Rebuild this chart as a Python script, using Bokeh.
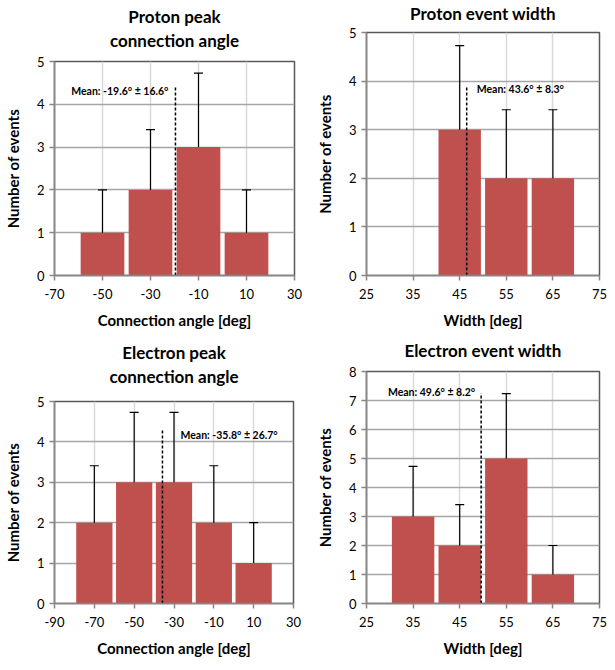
from bokeh.plotting import figure
from bokeh.layouts import row, column
from bokeh.models import Title, Whisker, TeeHead, FixedTicker, Range1d, ColumnDataSource
from bokeh.core.properties import value
from bokeh.embed import file_html
from bokeh.resources import INLINE

# ---------------- data ----------------
pp_centers = [-50, -30, -10, 10]
pp_counts = [1, 2, 3, 1]
pp_err = [1.0, 1.41, 1.73, 1.0]
pp_mean_x = -19.6
pp_mean_top = 4.4
pp_mean_label = "Mean: -19.6° ± 16.6°"

pw_centers = [45, 55, 65]
pw_counts = [3, 2, 2]
pw_err = [1.73, 1.41, 1.41]
pw_mean_x = 46.5
pw_mean_top = 3.88
pw_mean_label = "Mean: 43.6° ± 8.3°"

ep_centers = [-70, -50, -30, -10, 10]
ep_counts = [2, 3, 3, 2, 1]
ep_err = [1.41, 1.73, 1.73, 1.41, 1.0]
ep_mean_x = -35.8
ep_mean_top = 4.3
ep_mean_label = "Mean: -35.8° ± 26.7°"

ew_centers = [35, 45, 55, 65]
ew_counts = [3, 2, 5, 1]
ew_err = [1.73, 1.41, 2.24, 1.0]
ew_mean_x = 49.6
ew_mean_top = 7.25
ew_mean_label = "Mean: 49.6° ± 8.2°"

angle_ticks_top = [-70, -50, -30, -10, 10, 30]
angle_ticks_bottom = [-90, -70, -50, -30, -10, 10, 30]
width_ticks = [25, 35, 45, 55, 65, 75]

FONT = "Lato"
BAR = "#C0504D"


def make_plot(title_lines, title_gap, xlabel, xr, xticks, ymax, centers, counts, errs, barw,
              mean_x, mean_top, mean_label, label_y, label_align, label_off,
              fw, fh, bl, br, bt, bb):
    p = figure(frame_width=fw, frame_height=fh, output_backend="svg", toolbar_location=None,
               x_range=Range1d(*xr), y_range=Range1d(0, ymax), title=None,
               min_border_left=bl, min_border_right=br, min_border_top=bt, min_border_bottom=bb)
    # thin spacer panel between the frame and the title lines
    p.add_layout(Title(text=" ", text_font_size="1px", standoff=title_gap, offset=0), "above")
    for line in reversed(title_lines):
        p.add_layout(Title(text=line, align="center", text_font=FONT, text_font_size="17px",
                           text_font_style="bold", text_color="#000000",
                           standoff=1, offset=0), "above")
    p.outline_line_color = "#595959"
    p.outline_line_width = 1.5

    p.xgrid.grid_line_color = "#d9d9d9"
    p.xgrid.grid_line_width = 1.5
    p.ygrid.grid_line_color = "#a6a6a6"
    p.ygrid.grid_line_width = 1.5
    p.xaxis.ticker = FixedTicker(ticks=xticks)
    p.yaxis.ticker = FixedTicker(ticks=list(range(0, ymax + 1)))
    p.xaxis.major_label_overrides = {t: str(t) for t in xticks}

    for ax in (p.xaxis[0], p.yaxis[0]):
        ax.axis_line_color = "#868686"
        ax.axis_line_width = 1.5
        ax.major_tick_line_color = "#868686"
        ax.major_tick_line_width = 1.5
        ax.major_tick_out = 5
        ax.major_tick_in = 0
        ax.minor_tick_line_color = None
        ax.major_label_text_font = FONT
        ax.major_label_text_font_size = "13px"
        ax.major_label_text_color = "#000000"
        ax.axis_label_text_font = FONT
        ax.axis_label_text_font_size = "15px"
        ax.axis_label_text_font_style = "bold"
        ax.axis_label_text_color = "#000000"
    p.xaxis.axis_label = xlabel
    p.yaxis.axis_label = "Number of events"
    p.xaxis.major_label_standoff = 8
    p.xaxis.axis_label_standoff = 9
    p.yaxis.major_label_standoff = 5
    p.yaxis.axis_label_standoff = 12

    src = ColumnDataSource(dict(x=centers, top=counts,
                                lower=[max(c - e, 0) for c, e in zip(counts, errs)],
                                upper=[c + e for c, e in zip(counts, errs)]))
    p.vbar(x="x", top="top", bottom=0, width=barw, source=src, fill_color=BAR, line_color=None)

    w = Whisker(base="x", upper="upper", lower="lower", source=src, line_color="#000000",
                line_width=1.2,
                upper_head=TeeHead(size=9, line_color="#000000", line_width=1.2),
                lower_head=TeeHead(size=9, line_color="#000000", line_width=1.2))
    p.add_layout(w)

    p.segment(x0=[mean_x], y0=[0], x1=[mean_x], y1=[mean_top], line_color="#000000",
              line_width=1.5, line_dash="3 2")
    p.text(x=[mean_x], y=[label_y], text=[mean_label], text_font=value(FONT),
           text_font_size="10.5px", text_font_style="bold", text_color="#000000",
           text_align=label_align, text_baseline="middle", x_offset=label_off)
    return p


p1 = make_plot(["Proton peak", "connection angle"], 7, "Connection angle [deg]", (-70, 30),
               angle_ticks_top, 5, pp_centers, pp_counts, pp_err, 18.2,
               pp_mean_x, pp_mean_top, pp_mean_label, 4.3, "right", -7,
               240, 214, 45, 12, 61, 56)
p2 = make_plot(["Proton event width"], 5, "Width [deg]", (25, 75),
               width_ticks, 5, pw_centers, pw_counts, pw_err, 9.1,
               pw_mean_x, pw_mean_top, pw_mean_label, 3.83, "left", 10,
               233, 243, 60, 9, 32, 56)
p3 = make_plot(["Electron peak", "connection angle"], 11, "Connection angle [deg]", (-90, 30),
               angle_ticks_bottom, 5, ep_centers, ep_counts, ep_err, 18.2,
               ep_mean_x, ep_mean_top, ep_mean_label, 4.18, "left", 18,
               239, 202, 45, 13, 70, 56)
p4 = make_plot(["Electron event width"], 7, "Width [deg]", (25, 75),
               width_ticks, 8, ew_centers, ew_counts, ew_err, 9.1,
               ew_mean_x, ew_mean_top, ew_mean_label, 7.3, "right", -6,
               233, 232, 60, 9, 40, 56)

layout = column(row(column(p1), column(p2)), row(column(p3), column(p4)))
open("out.html", "w").write(file_html(layout, INLINE))
